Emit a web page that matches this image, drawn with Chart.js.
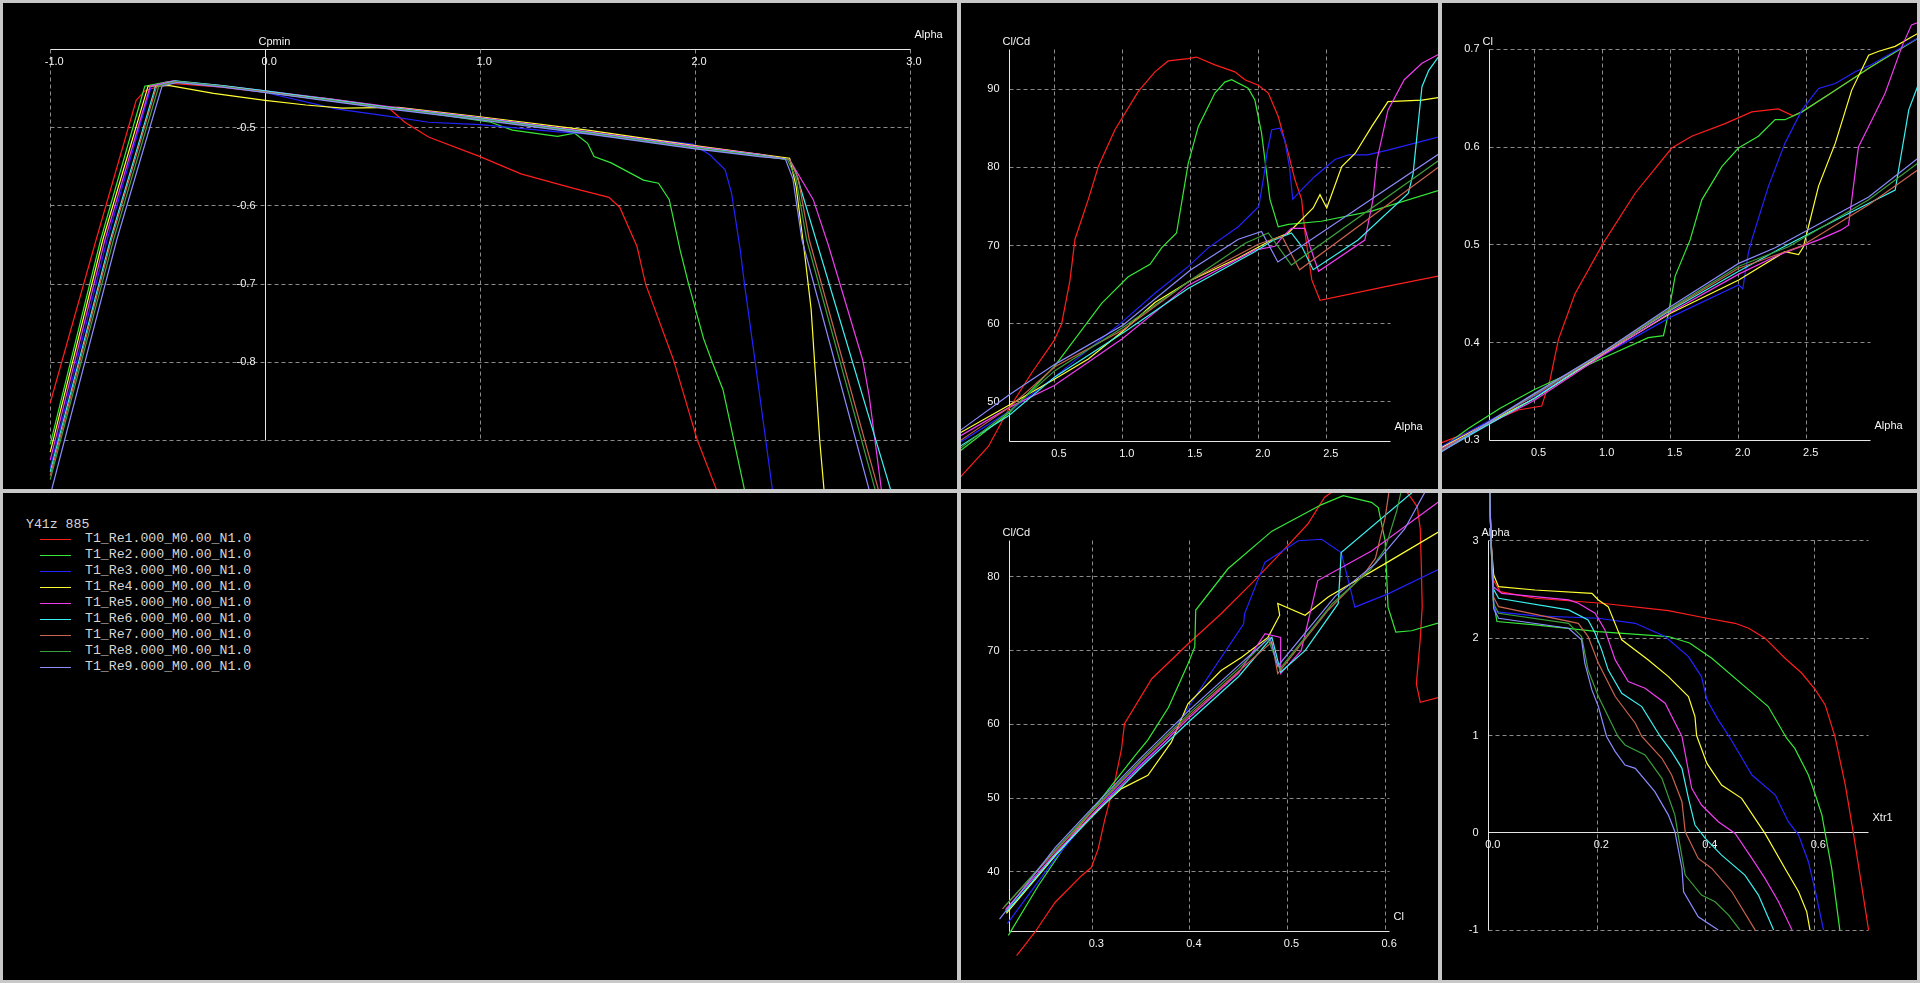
<!DOCTYPE html>
<html>
<head>
<meta charset="utf-8">
<title>Y41z 885 polars</title>
<script src="https://cdn.jsdelivr.net/npm/chart.js@4.4.1/dist/chart.umd.min.js"></script>
<style>
  html, body { margin: 0; padding: 0; width: 1920px; height: 983px; overflow: hidden; background: #c8c8c8; }
  .panel { position: absolute; background: #000; display: block; }
  #legend { font-family: "Liberation Mono", "DejaVu Sans Mono", monospace; font-size: 13.2px; color: #d6d6d6; }
  .lg-text { position: absolute; white-space: pre; line-height: 16px; height: 16px; }
  .lg-line { position: absolute; height: 1px; width: 31px; }
</style>
</head>
<body>
<script>
// ---------------- polars ----------------
const polarNames = [
  'T1_Re1.000_M0.00_N1.0', 'T1_Re2.000_M0.00_N1.0', 'T1_Re3.000_M0.00_N1.0',
  'T1_Re4.000_M0.00_N1.0', 'T1_Re5.000_M0.00_N1.0', 'T1_Re6.000_M0.00_N1.0',
  'T1_Re7.000_M0.00_N1.0', 'T1_Re8.000_M0.00_N1.0', 'T1_Re9.000_M0.00_N1.0'
];
const foilName = 'Y41z 885';

// Cpmin versus Alpha  [alpha, Cpmin]
const cpmin_Re1 = [[-1.0,-0.852],[-0.786,-0.643],[-0.6,-0.465],[-0.56,-0.453],[-0.45,-0.443],[-0.2,-0.448],[0.0,-0.455],[0.3,-0.465],[0.58,-0.476],[0.65,-0.493],[0.76,-0.512],[1.0,-0.537],[1.19,-0.559],[1.44,-0.578],[1.6,-0.589],[1.65,-0.602],[1.73,-0.652],[1.77,-0.7],[1.9,-0.797],[2.01,-0.899],[2.1,-0.963],[2.15,-1.0]];
const cpmin_Re2 = [[-1.0,-0.905],[-0.765,-0.643],[-0.56,-0.447],[-0.45,-0.441],[-0.2,-0.447],[0.0,-0.454],[0.3,-0.463],[0.6,-0.475],[1.05,-0.493],[1.15,-0.503],[1.36,-0.511],[1.44,-0.507],[1.5,-0.52],[1.53,-0.537],[1.61,-0.545],[1.76,-0.567],[1.83,-0.571],[1.88,-0.592],[1.93,-0.656],[1.97,-0.7],[2.04,-0.77],[2.08,-0.8],[2.13,-0.835],[2.23,-0.963],[2.26,-1.0]];
const cpmin_Re3 = [[-1.0,-0.935],[-0.735,-0.643],[-0.53,-0.447],[-0.43,-0.441],[-0.2,-0.447],[0.0,-0.455],[0.33,-0.476],[0.62,-0.487],[0.76,-0.493],[1.0,-0.496],[1.35,-0.505],[1.67,-0.511],[1.99,-0.521],[2.07,-0.535],[2.14,-0.554],[2.17,-0.584],[2.21,-0.656],[2.23,-0.7],[2.28,-0.8],[2.36,-0.963],[2.37,-1.0]];
const cpmin_Re4 = [[-1.0,-0.915],[-0.755,-0.643],[-0.545,-0.447],[-0.45,-0.446],[-0.24,-0.456],[0.0,-0.465],[0.19,-0.471],[0.36,-0.475],[0.62,-0.474],[1.0,-0.486],[1.5,-0.503],[2.0,-0.523],[2.44,-0.539],[2.47,-0.575],[2.505,-0.65],[2.54,-0.732],[2.58,-0.9],[2.6,-0.963],[2.61,-1.0]];
const cpmin_Re5 = [[-1.0,-0.925],[-0.745,-0.643],[-0.535,-0.447],[-0.43,-0.44],[-0.2,-0.446],[0.0,-0.453],[0.3,-0.463],[0.6,-0.474],[1.0,-0.487],[1.5,-0.505],[2.0,-0.524],[2.3,-0.534],[2.44,-0.541],[2.55,-0.592],[2.62,-0.65],[2.78,-0.797],[2.81,-0.843],[2.867,-0.963],[2.88,-1.0]];
const cpmin_Re6 = [[-1.0,-0.94],[-0.72,-0.643],[-0.51,-0.447],[-0.42,-0.44],[-0.2,-0.446],[0.0,-0.453],[0.3,-0.464],[0.6,-0.475],[1.0,-0.488],[1.5,-0.506],[2.0,-0.525],[2.3,-0.535],[2.44,-0.541],[2.47,-0.558],[2.57,-0.65],[2.91,-0.963],[2.925,-1.0]];
const cpmin_Re7 = [[-1.0,-0.945],[-0.715,-0.643],[-0.505,-0.447],[-0.42,-0.441],[-0.2,-0.447],[0.0,-0.454],[0.3,-0.465],[0.6,-0.476],[1.0,-0.489],[1.5,-0.507],[2.0,-0.526],[2.3,-0.536],[2.44,-0.541],[2.48,-0.565],[2.531,-0.643],[2.853,-0.963],[2.893,-1.0]];
const cpmin_Re8 = [[-1.0,-0.95],[-0.705,-0.643],[-0.495,-0.447],[-0.41,-0.441],[-0.2,-0.447],[0.0,-0.455],[0.3,-0.465],[0.6,-0.476],[1.0,-0.489],[1.5,-0.507],[2.0,-0.526],[2.3,-0.536],[2.43,-0.541],[2.47,-0.565],[2.519,-0.643],[2.838,-0.963],[2.878,-1.0]];
const cpmin_Re9 = [[-1.0,-0.97],[-0.69,-0.643],[-0.48,-0.447],[-0.41,-0.442],[-0.2,-0.448],[0.0,-0.455],[0.3,-0.466],[0.6,-0.477],[1.0,-0.49],[1.5,-0.508],[2.0,-0.527],[2.3,-0.537],[2.42,-0.54],[2.455,-0.565],[2.497,-0.643],[2.81,-0.963],[2.85,-1.0]];

// Cl/Cd versus Alpha  [alpha, Cl/Cd]
const clcdAlpha_Re1 = [[-0.3,38.4],[-0.2,40.3],[0.011,44.3],[0.158,49.0],[0.329,53.7],[0.496,57.9],[0.55,60.0],[0.611,65.5],[0.648,70.8],[0.746,75.9],[0.82,80.1],[0.942,84.8],[1.114,89.7],[1.236,92.2],[1.334,93.6],[1.481,93.9],[1.542,94.1],[1.677,93.1],[1.824,92.2],[1.898,91.2],[1.996,90.5],[2.07,89.5],[2.143,86.5],[2.217,81.8],[2.266,78.4],[2.315,75.9],[2.34,71.6],[2.39,65.6],[2.45,63.0],[2.95,64.8],[3.35,66.2]];
const clcdAlpha_Re2 = [[-0.3,42.4],[-0.2,43.7],[0.165,48.6],[0.5,54.6],[0.844,62.6],[1.04,66.0],[1.2,67.6],[1.285,69.7],[1.395,71.6],[1.481,80.5],[1.555,85.2],[1.677,89.5],[1.75,90.9],[1.8,91.2],[1.922,90.1],[1.971,88.6],[2.02,84.4],[2.082,75.9],[2.143,72.4],[2.217,72.7],[2.46,73.1],[2.83,74.4],[3.35,77.2]];
const clcdAlpha_Re3 = [[-0.3,43.7],[-0.2,44.8],[0.165,48.8],[0.5,53.2],[1.0,60.3],[1.236,63.9],[1.48,67.3],[1.628,69.7],[1.849,72.4],[2.0,75.0],[2.04,79.2],[2.06,81.8],[2.095,84.8],[2.155,85.0],[2.19,83.5],[2.225,80.1],[2.25,75.9],[2.29,76.7],[2.41,78.8],[2.56,81.0],[2.66,81.6],[2.8,81.6],[2.95,82.2],[3.35,84.0]];
const clcdAlpha_Re4 = [[-0.3,45.0],[-0.2,46.0],[0.165,49.6],[0.496,52.9],[0.746,55.5],[0.991,58.9],[1.236,62.7],[1.505,65.6],[1.849,68.4],[2.094,70.7],[2.217,71.6],[2.4,74.8],[2.45,76.5],[2.5,74.8],[2.61,80.1],[2.71,81.8],[2.83,85.2],[2.95,88.4],[3.2,88.6],[3.35,89.0]];
const clcdAlpha_Re5 = [[-0.3,44.6],[-0.2,45.6],[0.165,49.3],[0.496,52.1],[0.991,58.0],[1.48,64.9],[1.97,69.4],[2.118,69.9],[2.17,71.0],[2.24,72.2],[2.34,72.2],[2.376,69.9],[2.44,66.7],[2.78,70.7],[2.84,75.9],[2.87,81.0],[2.95,87.3],[3.07,91.2],[3.2,93.3],[3.35,94.7]];
const clcdAlpha_Re6 = [[-0.3,43.2],[-0.2,44.3],[0.165,48.3],[0.5,53.2],[1.0,58.8],[1.48,64.5],[1.97,69.2],[2.1,70.6],[2.24,71.6],[2.315,69.9],[2.4,66.9],[2.73,70.7],[3.1,76.7],[3.135,79.2],[3.2,90.3],[3.25,92.4],[3.35,94.8]];
const clcdAlpha_Re7 = [[-0.3,44.0],[-0.2,45.0],[0.165,49.3],[0.5,54.5],[1.0,59.2],[1.5,65.6],[2.0,70.2],[2.17,71.2],[2.3,66.9],[3.35,80.4]];
const clcdAlpha_Re8 = [[-0.3,43.0],[-0.2,44.0],[0.165,48.8],[0.5,54.0],[1.0,59.5],[1.5,65.6],[1.9,70.3],[2.07,71.6],[2.24,67.5],[3.35,81.2]];
const clcdAlpha_Re9 = [[-0.3,45.2],[-0.2,46.3],[0.165,50.9],[0.5,54.8],[1.0,59.8],[1.5,66.9],[1.85,70.8],[2.02,71.8],[2.14,67.9],[3.35,82.0]];

// Cl versus Alpha  [alpha, Cl]
const clAlpha_Re1 = [[-0.3,0.292],[-0.232,0.295],[0.013,0.308],[0.258,0.324],[0.381,0.331],[0.552,0.335],[0.614,0.362],[0.675,0.403],[0.797,0.45],[1.006,0.502],[1.24,0.553],[1.508,0.599],[1.655,0.611],[1.9,0.624],[2.096,0.636],[2.29,0.639],[2.4,0.632],[2.465,0.636],[2.71,0.658],[2.97,0.682],[3.35,0.714]];
const clAlpha_Re2 = [[-0.3,0.281],[-0.232,0.287],[0.013,0.312],[0.25,0.333],[0.5,0.352],[1.0,0.384],[1.336,0.405],[1.447,0.407],[1.484,0.43],[1.533,0.468],[1.643,0.505],[1.729,0.546],[1.876,0.58],[1.998,0.599],[2.145,0.611],[2.268,0.628],[2.34,0.628],[2.465,0.636],[2.71,0.658],[2.97,0.682],[3.35,0.714]];
const clAlpha_Re3 = [[-0.3,0.284],[-0.232,0.29],[0.5,0.345],[1.0,0.387],[1.5,0.426],[1.998,0.459],[2.03,0.455],[2.07,0.491],[2.096,0.505],[2.219,0.56],[2.34,0.604],[2.465,0.638],[2.587,0.66],[2.71,0.665],[2.856,0.677],[2.97,0.684],[3.35,0.714]];
const clAlpha_Re4 = [[-0.3,0.283],[-0.232,0.289],[0.5,0.343],[1.0,0.388],[1.5,0.43],[2.0,0.464],[2.34,0.493],[2.44,0.49],[2.476,0.498],[2.587,0.56],[2.71,0.604],[2.83,0.658],[2.955,0.694],[3.03,0.698],[3.15,0.703],[3.35,0.719]];
const clAlpha_Re5 = [[-0.3,0.282],[-0.232,0.288],[0.5,0.341],[1.0,0.387],[1.5,0.431],[2.0,0.47],[2.3,0.49],[2.587,0.505],[2.75,0.515],[2.807,0.52],[2.88,0.6],[2.955,0.621],[3.076,0.655],[3.2,0.703],[3.27,0.725],[3.35,0.729]];
const clAlpha_Re6 = [[-0.3,0.279],[-0.232,0.285],[0.5,0.343],[1.0,0.389],[1.5,0.433],[2.0,0.473],[2.317,0.497],[2.807,0.532],[3.15,0.556],[3.25,0.638],[3.35,0.675]];
const clAlpha_Re7 = [[-0.3,0.28],[-0.232,0.286],[0.5,0.346],[1.0,0.389],[1.5,0.434],[2.0,0.476],[2.465,0.499],[2.955,0.541],[3.35,0.58]];
const clAlpha_Re8 = [[-0.3,0.279],[-0.232,0.285],[0.5,0.347],[1.0,0.39],[1.5,0.435],[2.0,0.478],[2.366,0.498],[2.955,0.546],[3.35,0.587]];
const clAlpha_Re9 = [[-0.3,0.278],[-0.232,0.284],[0.5,0.348],[1.0,0.39],[1.5,0.437],[2.0,0.481],[2.268,0.497],[2.955,0.549],[3.35,0.592]];

// Cl/Cd versus Cl  [Cl, Cl/Cd]
const clcdCl_Re1 = [[0.2225,28.65],[0.241,31.8],[0.262,35.9],[0.289,39.5],[0.299,40.6],[0.306,43.1],[0.313,47.2],[0.323,52.2],[0.33,56.7],[0.333,60.1],[0.361,66.2],[0.398,70.9],[0.432,75.0],[0.466,79.5],[0.5,84.2],[0.521,87.2],[0.538,90.8],[0.553,92.2],[0.599,93.9],[0.611,93.1],[0.624,91.2],[0.633,89.5],[0.636,86.5],[0.637,81.8],[0.638,76.0],[0.636,71.6],[0.632,65.5],[0.636,63.0],[0.656,63.7],[0.683,64.8]];
const clcdCl_Re2 = [[0.214,31.4],[0.245,38.2],[0.279,44.9],[0.313,50.6],[0.344,55.8],[0.357,57.9],[0.378,62.3],[0.398,68.2],[0.405,70.5],[0.406,75.5],[0.439,81.1],[0.484,86.2],[0.535,89.8],[0.557,91.0],[0.586,90.1],[0.593,89.4],[0.6,84.9],[0.603,75.9],[0.611,72.5],[0.627,72.7],[0.656,73.8],[0.68,74.8]];
const clcdCl_Re3 = [[0.213,33.0],[0.262,41.8],[0.296,47.2],[0.33,52.2],[0.378,58.1],[0.419,66.5],[0.455,73.6],[0.456,75.0],[0.477,82.0],[0.511,84.9],[0.535,85.1],[0.555,83.3],[0.564,78.6],[0.569,75.9],[0.603,77.7],[0.656,81.1],[0.68,82.5]];
const clcdCl_Re4 = [[0.212,34.4],[0.262,42.2],[0.296,47.2],[0.33,51.3],[0.357,53.1],[0.381,57.6],[0.398,62.8],[0.432,67.3],[0.453,69.1],[0.48,71.8],[0.492,74.8],[0.49,76.4],[0.518,74.8],[0.542,77.3],[0.6,81.8],[0.656,86.2],[0.68,88.0]];
const clcdCl_Re5 = [[0.211,34.9],[0.262,42.5],[0.3,47.8],[0.35,54.5],[0.4,61.0],[0.45,67.0],[0.477,72.3],[0.493,71.8],[0.493,66.9],[0.514,70.0],[0.531,79.5],[0.586,83.5],[0.656,90.3],[0.68,92.5]];
const clcdCl_Re6 = [[0.212,34.6],[0.262,42.3],[0.3,47.5],[0.35,54.2],[0.4,60.5],[0.45,66.5],[0.484,71.8],[0.493,67.1],[0.518,70.0],[0.552,76.4],[0.555,83.3],[0.63,91.7],[0.66,94.5]];
const clcdCl_Re7 = [[0.208,35.0],[0.262,42.8],[0.3,48.2],[0.35,55.0],[0.4,61.3],[0.45,67.2],[0.484,71.2],[0.49,66.9],[0.541,75.4],[0.578,80.3],[0.59,82.5],[0.6,88.0],[0.605,92.5]];
const clcdCl_Re8 = [[0.21,35.3],[0.262,43.0],[0.3,48.4],[0.35,55.2],[0.4,61.6],[0.45,67.6],[0.48,71.6],[0.492,67.5],[0.546,76.4],[0.585,81.0],[0.6,83.8],[0.612,89.0],[0.618,92.5]];
const clcdCl_Re9 = [[0.205,33.6],[0.262,43.3],[0.3,48.7],[0.35,55.5],[0.4,62.0],[0.45,68.0],[0.482,71.8],[0.49,67.9],[0.549,77.4],[0.59,81.8],[0.62,86.5],[0.645,92.5]];

// Alpha versus Xtr1  [Xtr1, alpha]
const alphaXtr_Re1 = [[0.001,3.7],[0.004,3.0],[0.008,2.6],[0.021,2.477],[0.085,2.409],[0.208,2.358],[0.331,2.282],[0.402,2.204],[0.454,2.152],[0.479,2.101],[0.509,1.999],[0.546,1.793],[0.577,1.639],[0.602,1.468],[0.62,1.314],[0.638,0.989],[0.657,0.492],[0.672,-0.005],[0.687,-0.536],[0.7,-0.998]];
const alphaXtr_Re2 = [[0.001,3.7],[0.004,3.0],[0.008,2.4],[0.015,2.17],[0.085,2.135],[0.202,2.067],[0.331,2.016],[0.37,1.95],[0.411,1.793],[0.479,1.468],[0.515,1.297],[0.549,0.972],[0.564,0.868],[0.589,0.594],[0.602,0.389],[0.614,0.183],[0.62,-0.005],[0.632,-0.365],[0.647,-0.998]];
const alphaXtr_Re3 = [[0.001,3.7],[0.004,3.0],[0.008,2.45],[0.011,2.272],[0.085,2.228],[0.202,2.204],[0.27,2.152],[0.325,2.016],[0.368,1.81],[0.392,1.605],[0.402,1.366],[0.423,1.16],[0.445,0.972],[0.485,0.594],[0.528,0.389],[0.552,0.115],[0.571,-0.022],[0.589,-0.296],[0.602,-0.604],[0.617,-0.998]];
const alphaXtr_Re4 = [[0.001,3.7],[0.004,3.0],[0.009,2.65],[0.018,2.528],[0.085,2.494],[0.19,2.46],[0.202,2.392],[0.22,2.323],[0.245,1.982],[0.294,1.776],[0.331,1.605],[0.368,1.4],[0.38,1.195],[0.383,1.0],[0.402,0.714],[0.429,0.492],[0.466,0.355],[0.509,-0.005],[0.546,-0.365],[0.571,-0.604],[0.586,-0.81],[0.592,-0.998]];
const alphaXtr_Re5 = [[0.001,3.7],[0.003,3.2],[0.008,2.528],[0.024,2.46],[0.147,2.392],[0.165,2.358],[0.196,2.255],[0.214,2.084],[0.233,1.776],[0.257,1.554],[0.288,1.485],[0.325,1.331],[0.356,0.99],[0.374,0.457],[0.392,0.286],[0.423,0.115],[0.454,-0.005],[0.485,-0.262],[0.509,-0.467],[0.534,-0.707],[0.559,-0.998]];
const alphaXtr_Re6 = [[0.001,3.7],[0.004,3.0],[0.009,2.5],[0.018,2.409],[0.147,2.289],[0.183,2.187],[0.196,2.05],[0.208,1.879],[0.22,1.674],[0.245,1.434],[0.282,1.297],[0.316,0.99],[0.337,0.834],[0.356,0.663],[0.368,0.355],[0.38,0.08],[0.399,-0.057],[0.429,-0.228],[0.472,-0.433],[0.497,-0.638],[0.525,-0.998]];
const alphaXtr_Re7 = [[0.001,3.7],[0.004,3.0],[0.009,2.42],[0.018,2.323],[0.165,2.152],[0.183,2.016],[0.202,1.742],[0.233,1.4],[0.27,1.126],[0.282,0.99],[0.319,0.766],[0.337,0.594],[0.356,0.32],[0.362,0.012],[0.386,-0.262],[0.411,-0.365],[0.448,-0.604],[0.491,-0.998]];
const alphaXtr_Re8 = [[0.001,3.7],[0.004,3.0],[0.009,2.35],[0.018,2.255],[0.147,2.152],[0.171,2.016],[0.183,1.674],[0.202,1.4],[0.22,1.195],[0.238,0.99],[0.251,0.903],[0.288,0.8],[0.319,0.56],[0.343,0.183],[0.349,-0.022],[0.362,-0.433],[0.392,-0.638],[0.417,-0.707],[0.442,-0.844],[0.463,-0.998]];
const alphaXtr_Re9 = [[0.001,3.7],[0.004,3.0],[0.009,2.3],[0.018,2.204],[0.147,2.101],[0.171,1.982],[0.177,1.742],[0.19,1.468],[0.202,1.297],[0.217,0.99],[0.233,0.834],[0.251,0.697],[0.27,0.663],[0.306,0.423],[0.331,0.183],[0.343,0.012],[0.356,-0.365],[0.359,-0.604],[0.386,-0.861],[0.423,-0.998]];

// tick values and their labels
const cpminAlphaTicks = [-1, 0, 1, 2, 3];
const cpminAlphaLabels = ['-1.0', '0.0', '1.0', '2.0', '3.0'];
const cpminTicks = [-0.5, -0.6, -0.7, -0.8];
const cpminLabels = ['-0.5', '-0.6', '-0.7', '-0.8'];
const alphaTicks = [0.5, 1.0, 1.5, 2.0, 2.5];
const alphaLabels = ['0.5', '1.0', '1.5', '2.0', '2.5'];
const clcdTicksTop = [50, 60, 70, 80, 90];
const clcdLabelsTop = ['50', '60', '70', '80', '90'];
const clTicks = [0.3, 0.4, 0.5, 0.6, 0.7];
const clLabels = ['0.3', '0.4', '0.5', '0.6', '0.7'];
const clAxisTicks = [0.3, 0.4, 0.5, 0.6];
const clAxisLabels = ['0.3', '0.4', '0.5', '0.6'];
const clcdTicksBottom = [40, 50, 60, 70, 80];
const clcdLabelsBottom = ['40', '50', '60', '70', '80'];
const xtrTicks = [0.0, 0.2, 0.4, 0.6];
const xtrLabels = ['0.0', '0.2', '0.4', '0.6'];
const alphaYTicks = [3, 2, 1, 0, -1];
const alphaYLabels = ['3', '2', '1', '0', '-1'];

// ---------------- styling ----------------
const polarColors = ['#ff1e1e', '#36e836', '#2323ff', '#ffff32', '#f03cf0', '#3cf0f0', '#c8644f', '#3c9e3c', '#8c8cff'];
const GRID = '#8a8a8a', AXIS = '#e6e6e6', TEXT = '#f4f4f4';
const LABEL_FONT = '11px "Liberation Sans", Arial, sans-serif';

// draws the dashed grid, the two axes and their labels under the curves
function xflrFrame(f) {
  return {
    id: 'xflrFrame',
    beforeDatasetsDraw(chart) {
      const ctx = chart.ctx, sx = chart.scales.x, sy = chart.scales.y;
      const X = v => sx.getPixelForValue(v), Y = v => sy.getPixelForValue(v);
      const snap = p => Math.round(p - 0.5) + 0.5;
      const xl = snap(X(f.xRange[0])), xr = snap(X(f.xRange[1]));
      const yb = snap(Y(f.yRange[0])), yt = snap(Y(f.yRange[1]));
      const ax = snap(X(f.yAxisAt)), ay = snap(Y(f.xAxisAt));
      ctx.save();
      ctx.lineWidth = 1;
      ctx.strokeStyle = GRID;
      ctx.setLineDash([4, 3]);
      ctx.beginPath();
      f.xGrid.forEach(v => { const p = snap(X(v)); ctx.moveTo(p, yt); ctx.lineTo(p, yb); });
      f.yGrid.forEach(v => { const p = snap(Y(v)); ctx.moveTo(xl, p); ctx.lineTo(xr, p); });
      ctx.stroke();
      ctx.setLineDash([]);
      ctx.strokeStyle = AXIS;
      ctx.beginPath();
      ctx.moveTo(xl, ay); ctx.lineTo(xr, ay);
      ctx.moveTo(ax, yt); ctx.lineTo(ax, yb);
      ctx.stroke();
      ctx.fillStyle = TEXT;
      ctx.font = LABEL_FONT;
      ctx.textBaseline = 'middle';
      ctx.textAlign = 'center';
      f.xTicks.forEach((v, i) => ctx.fillText(f.xLabels[i], X(v) + 4, ay + 12));
      ctx.textAlign = 'right';
      f.yTicks.forEach((v, i) => ctx.fillText(f.yLabels[i], ax - 10, Y(v)));
      ctx.textAlign = 'left';
      ctx.fillText(f.yTitle, ax - 7, yt - 8);
      ctx.fillText(f.xTitle, xr + 4, ay - 14.5);
      ctx.restore();
    }
  };
}

// value range of a canvas side, from two known value/page-pixel pairs
function sideRange(v0, p0, v1, p1, c0, c1) {
  const k = (v1 - v0) / (p1 - p0);
  return [v0 + (c0 - p0) * k, v0 + (c1 - p0) * k];
}

const views = [
  { rect: [3, 3, 954, 486], curves: [cpmin_Re1, cpmin_Re2, cpmin_Re3, cpmin_Re4, cpmin_Re5, cpmin_Re6, cpmin_Re7, cpmin_Re8, cpmin_Re9],
    xRange: [-1, 3], xPix: [50.2, 910], yRange: [-0.9, -0.4], yPix: [440.5, 49.5],
    xAxisAt: -0.4, yAxisAt: 0, xGrid: [-1, 1, 2, 3], yGrid: [-0.5, -0.6, -0.7, -0.8, -0.9],
    xTicks: cpminAlphaTicks, xLabels: cpminAlphaLabels, yTicks: cpminTicks, yLabels: cpminLabels,
    xTitle: 'Alpha', yTitle: 'Cpmin' },
  { rect: [961, 3, 477, 486], curves: [clcdAlpha_Re1, clcdAlpha_Re2, clcdAlpha_Re3, clcdAlpha_Re4, clcdAlpha_Re5, clcdAlpha_Re6, clcdAlpha_Re7, clcdAlpha_Re8, clcdAlpha_Re9],
    xRange: [0.165, 2.965], xPix: [1009.3, 1390], yRange: [45, 95], yPix: [441, 50],
    xAxisAt: 45, yAxisAt: 0.165, xGrid: alphaTicks, yGrid: clcdTicksTop,
    xTicks: alphaTicks, xLabels: alphaLabels, yTicks: clcdTicksTop, yLabels: clcdLabelsTop,
    xTitle: 'Alpha', yTitle: 'Cl/Cd' },
  { rect: [1442, 3, 475, 486], curves: [clAlpha_Re1, clAlpha_Re2, clAlpha_Re3, clAlpha_Re4, clAlpha_Re5, clAlpha_Re6, clAlpha_Re7, clAlpha_Re8, clAlpha_Re9],
    xRange: [0.165, 2.965], xPix: [1489, 1870], yRange: [0.3, 0.7], yPix: [440.3, 49.3],
    xAxisAt: 0.3, yAxisAt: 0.165, xGrid: alphaTicks, yGrid: [0.4, 0.5, 0.6, 0.7],
    xTicks: alphaTicks, xLabels: alphaLabels, yTicks: clTicks, yLabels: clLabels,
    xTitle: 'Alpha', yTitle: 'Cl' },
  { rect: [961, 493, 477, 487], curves: [clcdCl_Re1, clcdCl_Re2, clcdCl_Re3, clcdCl_Re4, clcdCl_Re5, clcdCl_Re6, clcdCl_Re7, clcdCl_Re8, clcdCl_Re9],
    xRange: [0.215, 0.605], xPix: [1009.3, 1390], yRange: [32, 85], yPix: [931, 540],
    xAxisAt: 32, yAxisAt: 0.215, xGrid: clAxisTicks, yGrid: clcdTicksBottom,
    xTicks: clAxisTicks, xLabels: clAxisLabels, yTicks: clcdTicksBottom, yLabels: clcdLabelsBottom,
    xTitle: 'Cl', yTitle: 'Cl/Cd' },
  { rect: [1442, 493, 475, 487], curves: [alphaXtr_Re1, alphaXtr_Re2, alphaXtr_Re3, alphaXtr_Re4, alphaXtr_Re5, alphaXtr_Re6, alphaXtr_Re7, alphaXtr_Re8, alphaXtr_Re9],
    xRange: [0, 0.7], xPix: [1488.8, 1868.6], yRange: [-1, 3], yPix: [930.3, 540.7],
    xAxisAt: 0, yAxisAt: 0, xGrid: [0.2, 0.4, 0.6], yGrid: [-1, 1, 2, 3],
    xTicks: xtrTicks, xLabels: xtrLabels, yTicks: alphaYTicks, yLabels: alphaYLabels,
    xTitle: 'Xtr1', yTitle: 'Alpha' }
];

views.forEach(v => {
  const [left, top, w, h] = v.rect;
  const cv = document.createElement('canvas');
  cv.className = 'panel';
  cv.width = w; cv.height = h;
  Object.assign(cv.style, { left: left + 'px', top: top + 'px', width: w + 'px', height: h + 'px' });
  document.body.appendChild(cv);
  const [xMin, xMax] = sideRange(v.xRange[0], v.xPix[0], v.xRange[1], v.xPix[1], left, left + w);
  const [yMax, yMin] = sideRange(v.yRange[0], v.yPix[0], v.yRange[1], v.yPix[1], top, top + h);
  new Chart(cv, {
    type: 'scatter',
    data: {
      datasets: v.curves.map((pts, i) => ({
        label: polarNames[i],
        data: pts.map(([x, y]) => ({ x, y })),
        showLine: true,
        borderColor: polarColors[i],
        backgroundColor: polarColors[i],
        borderWidth: 1.2,
        pointRadius: 0,
        pointHoverRadius: 0,
        tension: 0,
        fill: false,
        order: 8 - i
      }))
    },
    options: {
      responsive: false,
      animation: false,
      devicePixelRatio: 1,
      events: [],
      layout: { padding: 0 },
      plugins: { legend: { display: false }, tooltip: { enabled: false } },
      scales: {
        x: { type: 'linear', display: false, min: xMin, max: xMax },
        y: { type: 'linear', display: false, min: yMin, max: yMax }
      }
    },
    plugins: [xflrFrame(v)]
  });
});

// legend panel
const legend = document.createElement('div');
legend.id = 'legend';
legend.className = 'panel';
Object.assign(legend.style, { left: '3px', top: '493px', width: '954px', height: '487px' });
document.body.appendChild(legend);
const addText = (txt, x, yMid) => {
  const d = document.createElement('div');
  d.className = 'lg-text';
  d.textContent = txt;
  d.style.left = x + 'px';
  d.style.top = (yMid - 8) + 'px';
  legend.appendChild(d);
};
addText(foilName, 23, 32);
polarNames.forEach((name, i) => {
  const yMid = 46.3 + 16 * i;
  const ln = document.createElement('div');
  ln.className = 'lg-line';
  ln.style.left = '37px';
  ln.style.top = Math.round(yMid) + 'px';
  ln.style.background = polarColors[i];
  legend.appendChild(ln);
  addText(name, 82, yMid);
});
</script>
</body>
</html>
